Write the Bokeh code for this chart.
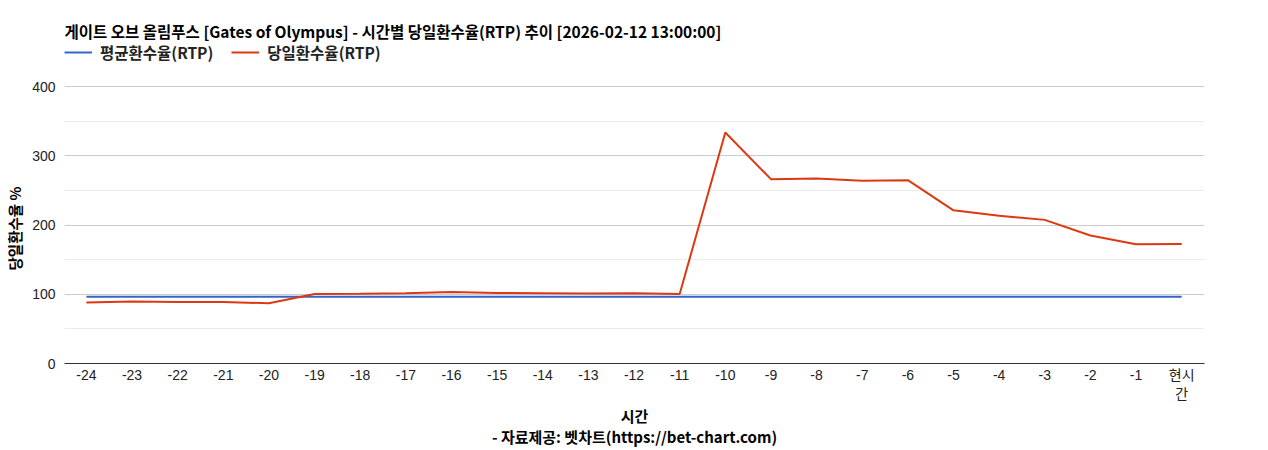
from bokeh.plotting import figure
from bokeh.models import FixedTicker, Legend, LegendItem, Range1d, Label, Title
from bokeh.embed import file_html
from bokeh.resources import INLINE

hours = [-24, -23, -22, -21, -20, -19, -18, -17, -16, -15, -14, -13, -12,
         -11, -10, -9, -8, -7, -6, -5, -4, -3, -2, -1, 0]
hour_labels = ["-24", "-23", "-22", "-21", "-20", "-19", "-18", "-17", "-16",
               "-15", "-14", "-13", "-12", "-11", "-10", "-9", "-8", "-7",
               "-6", "-5", "-4", "-3", "-2", "-1", "현시\n간"]
avg_rtp = [96.5, 96.5, 96.5, 96.5, 96.5, 96.5, 96.5, 96.5, 96.5, 96.5, 96.5,
           96.5, 96.5, 96.5, 96.5, 96.5, 96.5, 96.5, 96.5, 96.5, 96.5, 96.5,
           96.5, 96.5, 96.5]
day_rtp = [88.0, 89.4, 88.8, 88.8, 87.0, 100.5, 100.8, 101.5, 103.2, 101.8,
           101.5, 101.0, 101.5, 100.5, 333.5, 266.2, 267.0, 263.8, 264.8,
           221.2, 213.3, 207.4, 184.8, 172.2, 172.6]
y_ticks = [0, 100, 200, 300, 400]
y_minor = [50, 150, 250, 350]

title_text = "게이트 오브 올림푸스 [Gates of Olympus] - 시간별 당일환수율(RTP) 추이 [2026-02-12 13:00:00]"
x_title = "시간"
y_title = "당일환수율 %"
source_text = "- 자료제공: 벳차트(https://bet-chart.com)"
series_names = ["평균환수율(RTP)", "당일환수율(RTP)"]

FONT = "'Liberation Sans', 'Noto Sans CJK KR', sans-serif"
KFONT = "'Noto Sans CJK KR', sans-serif"

W, H = 1268, 450
LEFT, RIGHT, BOTTOM = 64, 64, 87
FRAME_H = H - BOTTOM            # frame spans from the top of the canvas
PX_PER_UNIT = 277 / 400         # 400 -> 277 px above the baseline

p = figure(width=W, height=H, output_backend="svg", toolbar_location=None,
           title_location=None,
           x_range=Range1d(-24.48, 0.5),
           y_range=Range1d(0, FRAME_H / PX_PER_UNIT),
           min_border_left=LEFT, min_border_right=RIGHT,
           min_border_bottom=BOTTOM, min_border_top=0)
p.outline_line_color = None

r_avg = p.line(hours, avg_rtp, line_color="#3366cc", line_width=2)
r_day = p.line(hours, day_rtp, line_color="#dc3912", line_width=2)

legend = Legend(items=[LegendItem(label=series_names[0], renderers=[r_avg]),
                       LegendItem(label=series_names[1], renderers=[r_day])],
                orientation="horizontal", location=(0, FRAME_H - 63),
                label_text_font=KFONT, label_text_font_size="15.5px",
                label_text_font_style="bold", label_text_color="#222222",
                border_line_color=None, background_fill_alpha=0,
                glyph_width=28, glyph_height=16, label_height=16,
                spacing=18, padding=0, margin=0, label_standoff=8)
p.add_layout(legend, "center")

p.add_layout(Label(x=0, y=FRAME_H - 30, x_units="screen", y_units="screen",
                   text=title_text, text_font=KFONT, text_font_size="15.5px",
                   text_font_style="bold", text_color="#000000",
                   text_align="left", text_baseline="middle"))

p.xaxis.ticker = FixedTicker(ticks=hours)
p.xaxis.major_label_overrides = {h: l for h, l in zip(hours, hour_labels)}
p.xaxis.major_tick_line_color = None
p.xaxis.minor_tick_line_color = None
p.xaxis.major_tick_out = 0
p.xaxis.major_tick_in = 0
p.xaxis.minor_tick_out = 0
p.xaxis.minor_tick_in = 0
p.xaxis.axis_line_color = "#333333"
p.xaxis.major_label_standoff = 3
p.xaxis.major_label_text_font = FONT
p.xaxis.major_label_text_font_size = "14px"
p.xaxis.major_label_text_color = "#222222"
p.xaxis.axis_label = x_title + "\n" + source_text
p.xaxis.axis_label_standoff = 0
p.xaxis.axis_label_text_font = KFONT
p.xaxis.axis_label_text_font_size = "15px"
p.xaxis.axis_label_text_font_style = "bold"
p.xaxis.axis_label_text_color = "#000000"
p.xaxis.axis_label_text_line_height = 1.0

p.yaxis.ticker = FixedTicker(ticks=y_ticks, minor_ticks=y_minor)
p.yaxis.major_tick_line_color = None
p.yaxis.minor_tick_line_color = None
p.yaxis.major_tick_out = 0
p.yaxis.major_tick_in = 0
p.yaxis.minor_tick_out = 0
p.yaxis.minor_tick_in = 0
p.yaxis.axis_line_color = None
p.yaxis.major_label_standoff = 9
p.yaxis.major_label_text_font = FONT
p.yaxis.major_label_text_font_size = "14px"
p.yaxis.major_label_text_color = "#222222"

p.add_layout(Title(text=y_title, align="left", offset=93,
                   vertical_align="top", standoff=6,
                   text_font=KFONT, text_font_size="14.5px",
                   text_font_style="bold", text_color="#000000"), "left")

p.xgrid.grid_line_color = None
p.ygrid.grid_line_color = "#cccccc"
p.ygrid.minor_grid_line_color = "#ebebeb"

open("out.html", "w").write(file_html(p, INLINE))
